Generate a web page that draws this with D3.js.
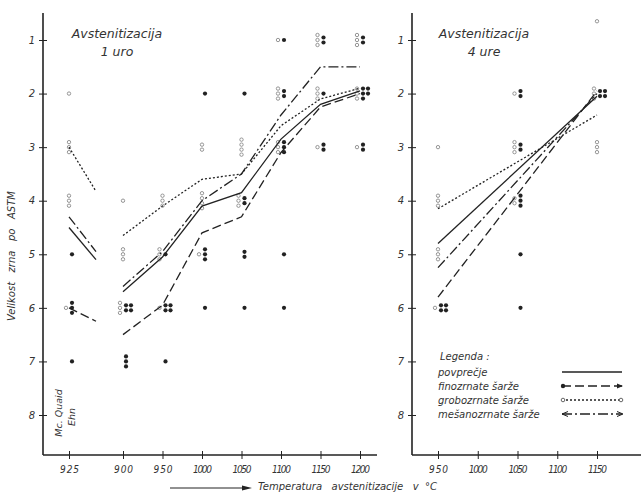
<!DOCTYPE html>
<html><head><meta charset="utf-8">
<script src="https://cdn.jsdelivr.net/npm/d3@7/dist/d3.min.js"></script>
<style>
html,body{margin:0;padding:0;background:#fff;}
svg{display:block;}
text{font-family:"DejaVu Sans",sans-serif;font-style:italic;fill:#333;}
</style></head>
<body>
<svg id="c" width="641" height="492"></svg>
<script>
// ---------- data ----------
const grainTicks = [1,2,3,4,5,6,7,8];
// left panel (1 uro) — first column is the separate "925" group (broken axis)
const tempsL = [825, 900, 950, 1000, 1050, 1100, 1150, 1200];
const tickLabelsL = ["925","900","950","1000","1050","1100","1150","1200"];
const povprecjeL = [4.5, 5.7, 5.05, 4.1, 3.85, 2.85, 2.2, 1.95];
const finoL      = [6.0, 6.5, 5.95, 4.6, 4.3, 3.1, 2.25, 2.0];
const groboL     = [3.0, 4.65, 4.1, 3.6, 3.5, 2.6, 2.1, 1.9];
const mesanoL    = [4.3, 5.6, 4.95, 4.0, 3.5, 2.4, 1.5, 1.5];
// right panel (4 ure)
const tickTempsR = [950, 1000, 1050, 1100, 1150];
const tickLabelsR = ["950","1000","1050","1100","1150"];
const tempsR = [950, 1150];
const povprecjeR = [4.8, 2.05];
const finoR      = [5.8, 1.95];
const groboR     = [4.15, 2.4];
const mesanoR    = [5.25, 2.0];
// measured samples: [temperature, grain size, fine-grained (filled) count, coarse/mixed (open) count]
const samplesL = [
  [825,2,0,1],[825,3,0,3],[825,4,0,3],[825,5,1,0],[825,6,3,1],[825,7,1,0],
  [900,4,0,1],[900,5,0,3],[900,6,4,3],[900,7,3,0],
  [950,4,0,3],[950,5,1,3],[950,6,4,1],[950,7,1,0],
  [1000,2,1,0],[1000,3,0,2],[1000,4,0,4],[1000,5,3,1],[1000,6,1,0],
  [1050,2,1,0],[1050,3,0,4],[1050,4,2,3],[1050,5,2,0],[1050,6,1,0],
  [1100,1,1,1],[1100,2,2,3],[1100,3,3,3],[1100,5,1,0],[1100,6,1,0],
  [1150,1,2,3],[1150,2,1,3],[1150,3,2,1],
  [1200,1,2,3],[1200,2,5,3],[1200,3,2,1]
];
const samplesR = [
  [950,3,0,1],[950,4,0,3],[950,5,0,3],[950,6,4,1],
  [1050,2,2,1],[1050,3,2,3],[1050,4,3,2],[1050,5,1,0],[1050,6,1,0],
  [1150,0.65,0,1],[1150,2,4,3],[1150,3,0,3]
];
const legendLabels = ["povprečje","finozrnate šarže","grobozrnate šarže","mešanozrnate šarže"];

// ---------- layout ----------
const svg = d3.select("#c");
const ink = "#222";
const baseY = 455, topY = 13;
const y = d3.scaleLinear().domain([1,8]).range([40,415]);
const xL = d3.scaleLinear().domain([825,900,1200]).range([69,123,360]);
const xR = d3.scaleLinear().domain([950,1150]).range([438,597]);
const styles = [
  {name:"povprecje", dash:null},
  {name:"fino", dash:"9,4"},
  {name:"grobo", dash:"2,2"},
  {name:"mesano", dash:"10,3,2,3"}
];

function axes(x, axisX, axisEnd, tickTemps, tickLabels){
  const g = svg.append("g");
  g.append("line").attr("x1",axisX).attr("x2",axisX).attr("y1",topY).attr("y2",baseY)
    .attr("stroke",ink).attr("stroke-width",1.6);
  g.append("line").attr("x1",axisX).attr("x2",axisEnd).attr("y1",baseY).attr("y2",baseY)
    .attr("stroke",ink).attr("stroke-width",1.6);
  const ya = d3.axisLeft(y).tickValues(grainTicks).tickSize(4).tickPadding(4).tickFormat(d3.format("d"));
  const gy = g.append("g").attr("transform",`translate(${axisX},0)`).call(ya);
  gy.select(".domain").remove();
  gy.selectAll(".tick line").attr("x1",4).attr("x2",-4).attr("stroke",ink);
  gy.selectAll(".tick text").attr("font-size",10).attr("fill","#555").style("font-family","DejaVu Sans").style("font-style","italic");
  const xa = d3.axisBottom(x).tickValues(tickTemps).tickSize(4).tickPadding(7)
    .tickFormat((d,i)=>tickLabels[i]);
  const gx = g.append("g").attr("transform",`translate(0,${baseY})`).call(xa);
  gx.select(".domain").remove();
  gx.selectAll(".tick line").attr("y1",-4).attr("y2",4).attr("stroke",ink);
  gx.selectAll(".tick text").attr("font-size",10).attr("fill","#555").attr("textLength",19)
    .style("font-family","DejaVu Sans Condensed, DejaVu Sans").style("font-style","italic");
}

function samples(x, data){
  const g = svg.append("g");
  data.forEach(([t,gs,f,o])=>{
    const x0 = x(t), y0 = y(gs);
    const cols = f>3 ? 2 : 1;
    const rows = Math.ceil(f/cols);
    for(let i=0;i<f;i++){
      const c = cols===2 ? i%2 : 0, r = cols===2 ? Math.floor(i/2) : i;
      g.append("circle").attr("cx", x0+3+c*5).attr("cy", y0+(r-(rows-1)/2)*5)
        .attr("r",2.1).attr("fill",ink);
    }
    for(let i=0;i<o;i++){
      g.append("circle").attr("cx", x0-(f>0?3:0)).attr("cy", y0+(i-(o-1)/2)*5)
        .attr("r",1.7).attr("fill","none").attr("stroke","#8a8a8a").attr("stroke-width",0.9);
    }
  });
}

function seriesLine(x, temps, vals, st, startIdx){
  const pts = temps.map((t,i)=>[x(t), y(vals[i])]).slice(startIdx);
  svg.append("path").attr("d", d3.line()(pts)).attr("fill","none")
    .attr("stroke",ink).attr("stroke-width",1.3)
    .attr("stroke-dasharray", st.dash);
}

// left panel
axes(xL, 43, 377, tempsL, tickLabelsL);
samples(xL, samplesL);
[povprecjeL, finoL, groboL, mesanoL].forEach((vals,k)=>{
  // broken segment from the separate first group, drawn half-way toward 900 °C
  const p0 = [xL(tempsL[0]), y(vals[0])], p1 = [xL(tempsL[1]), y(vals[1])];
  const mid = [(p0[0]+p1[0])/2, (p0[1]+p1[1])/2];
  svg.append("path").attr("d", d3.line()([p0, mid])).attr("fill","none")
    .attr("stroke",ink).attr("stroke-width",1.3).attr("stroke-dasharray", styles[k].dash);
  seriesLine(xL, tempsL, vals, styles[k], 1);
});

// right panel
axes(xR, 412, 641, tickTempsR, tickLabelsR);
samples(xR, samplesR);
[povprecjeR, finoR, groboR, mesanoR].forEach((vals,k)=>{
  seriesLine(xR, tempsR, vals, styles[k], 0);
});

// titles
function title(cx, l1, l2){
  svg.append("text").attr("x",cx).attr("y",38).attr("text-anchor","middle").attr("font-size",12.5).text(l1);
  svg.append("text").attr("x",cx).attr("y",56).attr("text-anchor","middle").attr("font-size",12.5).text(l2);
}
title(117, "Avstenitizacija", "1 uro");
title(484, "Avstenitizacija", "4 ure");

// y label
svg.append("text").attr("transform","translate(15,256) rotate(-90)").attr("text-anchor","middle")
  .attr("font-size",10).attr("fill","#444").style("white-space","pre").text("Velikost   zrna   po   ASTM");
svg.append("text").attr("transform","translate(62,413) rotate(-90)").attr("text-anchor","middle")
  .attr("font-size",9.5).attr("fill","#555").text("Mc. Quaid");
svg.append("text").attr("transform","translate(75,417) rotate(-90)").attr("text-anchor","middle")
  .attr("font-size",9.5).attr("fill","#555").text("Ehn");

// x title + arrow
svg.append("text").attr("x",258).attr("y",490).attr("font-size",10).attr("fill","#444")
  .style("white-space","pre").text("Temperatura   avstenitizacije   v  °C");
svg.append("line").attr("x1",170).attr("x2",242).attr("y1",488).attr("y2",488).attr("stroke",ink).attr("stroke-width",1);
svg.append("path").attr("d","M242,485.5 L252,488 L242,490.5 Z").attr("fill",ink);

// legend
svg.append("text").attr("x",440).attr("y",360).attr("font-size",10).attr("fill","#444").text("Legenda :");
legendLabels.forEach((lab,k)=>{
  const ly = 376 + k*14;
  svg.append("text").attr("x",438).attr("y",ly).attr("font-size",10).attr("fill","#444").text(lab);
  svg.append("line").attr("x1",562).attr("x2",622).attr("y1",ly-4).attr("y2",ly-4)
    .attr("stroke",ink).attr("stroke-width",1.3).attr("stroke-dasharray",styles[k].dash);
  if(k===1){
    svg.append("circle").attr("cx",563).attr("cy",ly-4).attr("r",2.2).attr("fill",ink);
    svg.append("path").attr("d",`M617,${ly-6.5} L623,${ly-4} L617,${ly-1.5} Z`).attr("fill",ink);
  } else if(k===2){
    svg.append("circle").attr("cx",563).attr("cy",ly-4).attr("r",1.8).attr("fill","#fff").attr("stroke","#666");
    svg.append("circle").attr("cx",621).attr("cy",ly-4).attr("r",1.8).attr("fill","#fff").attr("stroke","#666");
  } else if(k===3){
    svg.append("path").attr("d",`M568,${ly-6.5} L562,${ly-4} L568,${ly-1.5}`).attr("fill","none").attr("stroke",ink);
    svg.append("path").attr("d",`M617,${ly-6.5} L623,${ly-4} L617,${ly-1.5}`).attr("fill","none").attr("stroke",ink);
  }
});
</script>
</body></html>
